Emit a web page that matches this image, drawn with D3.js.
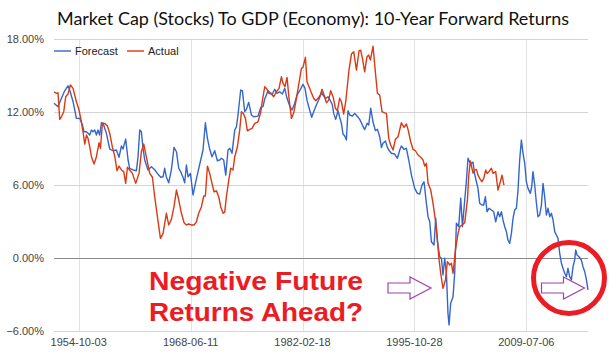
<!DOCTYPE html>
<html>
<head>
<meta charset="utf-8">
<script src="https://d3js.org/d3.v7.min.js"></script>
<style>
  body { margin: 0; background: #fff; }
  svg { display: block; }
</style>
</head>
<body>
<script>
const width = 615;
const height = 361;

const title = "Market Cap (Stocks) To GDP (Economy): 10-Year Forward Returns";
const seriesNames = ["Forecast", "Actual"];
const yTicks = [-6, 0, 6, 12, 18];
const xTickLabels = ["1954-10-03", "1968-06-11", "1982-02-18", "1995-10-28", "2009-07-06"];
const noteLines = ["Negative Future", "Returns Ahead?"];

// [decimal year, % return]
const forecast = [
  [1951.73, 12.74], [1952.22, 12.46], [1952.64, 13.15], [1953.04, 13.77], [1953.44, 14.18], [1953.65, 13.83],
  [1954.06, 12.87], [1954.47, 11.5], [1954.88, 11.5], [1955.21, 10.95], [1955.40, 10.4], [1955.70, 10.4],
  [1956.10, 10.13], [1956.31, 10.54], [1956.50, 10.4], [1956.71, 10.54], [1956.92, 10.13], [1957.11, 10.54],
  [1957.32, 10.13], [1957.53, 11.14], [1957.73, 11.1], [1958.14, 10.27], [1958.55, 8.98], [1958.95, 8.84],
  [1959.37, 8.9], [1959.68, 8.3], [1959.98, 9.23], [1960.17, 8.98], [1960.50, 9.8], [1960.79, 8.08],
  [1960.99, 7.4], [1961.40, 7.26], [1961.81, 7.2], [1962.01, 8.35], [1962.22, 10.54], [1962.42, 10.4],
  [1962.62, 9.04], [1962.83, 8.08], [1963.23, 7.26], [1963.65, 7.53], [1964.05, 7.28], [1964.46, 6.9],
  [1964.79, 6.66], [1965.07, 6.7], [1965.27, 7.4], [1965.48, 6.66], [1965.76, 6.21], [1966.09, 7.26],
  [1966.41, 9.12], [1966.71, 8.76], [1966.99, 7.4], [1967.23, 7.12], [1967.51, 6.66], [1967.72, 6.21],
  [1967.93, 7.67], [1968.13, 6.7], [1968.42, 6.98], [1968.74, 5.2], [1969.03, 6.16], [1969.35, 7.12],
  [1969.68, 8.08], [1969.96, 8.9], [1970.25, 11.14], [1970.50, 9.86], [1970.78, 8.96], [1971.06, 8.35],
  [1971.39, 8.84], [1971.72, 8.02], [1972.00, 8.08], [1972.21, 8.22], [1972.49, 8.08], [1972.74, 6.84],
  [1973.02, 8.9], [1973.23, 9.04], [1973.51, 8.63], [1973.84, 10.54], [1974.05, 10.81], [1974.24, 11.78],
  [1974.57, 13.83], [1974.78, 13.77], [1975.06, 12.05], [1975.27, 12.24], [1975.55, 12.82], [1975.88, 11.78],
  [1976.16, 11.63], [1976.69, 11.69], [1977.02, 12.4], [1977.30, 12.46], [1977.51, 13.1], [1977.91, 13.77],
  [1978.21, 13.61], [1978.45, 13.5], [1978.73, 13.89], [1979.01, 13.56], [1979.34, 13.69], [1979.67, 13.5],
  [1979.96, 13.97], [1980.24, 13.15], [1980.57, 12.51], [1980.85, 12.19], [1981.18, 12.74], [1981.46, 13.42],
  [1981.71, 13.69], [1981.88, 13.89], [1982.19, 14.3], [1982.44, 13.97], [1982.68, 13.0], [1983.01, 12.19],
  [1983.26, 11.59], [1983.50, 12.05], [1983.83, 12.6], [1984.15, 13.07], [1984.45, 13.61], [1984.73, 13.34],
  [1984.97, 13.15], [1985.25, 13.28], [1985.55, 12.95], [1985.79, 12.6], [1985.95, 11.91], [1986.19, 11.42],
  [1986.48, 12.13], [1986.68, 11.59], [1986.89, 11.09], [1987.09, 10.21], [1987.30, 10.05], [1987.50, 9.72],
  [1987.70, 12.13], [1987.91, 11.78], [1988.24, 11.69], [1988.52, 11.91], [1988.80, 11.69], [1989.13, 11.42],
  [1989.46, 10.95], [1989.74, 10.58], [1990.05, 11.1], [1990.23, 10.95], [1990.48, 12.33], [1990.76, 11.2],
  [1991.05, 10.5], [1991.30, 10.6], [1991.58, 9.99], [1991.79, 9.1], [1991.98, 9.45], [1992.28, 9.65],
  [1992.52, 9.12], [1992.68, 8.9], [1993.01, 8.63], [1993.41, 8.57], [1993.74, 8.22], [1994.03, 8.9],
  [1994.23, 9.23], [1994.55, 8.96], [1994.84, 9.04], [1995.13, 8.08], [1995.46, 6.84], [1995.86, 5.75],
  [1996.19, 5.34], [1996.47, 5.28], [1996.75, 6.02], [1997.00, 6.29], [1997.29, 4.52], [1997.49, 3.42],
  [1997.70, 3.0], [1997.90, 1.36], [1998.22, 1.09], [1998.43, 3.29], [1998.64, 1.36], [1998.92, 0.13],
  [1999.13, 0.0], [1999.32, -1.37], [1999.53, 0.0], [1999.74, -1.23], [1999.93, -4.52], [2000.06, -5.48],
  [2000.26, -3.7], [2000.55, -3.16], [2000.75, -1.23], [2000.96, 2.88], [2001.24, 2.6], [2001.49, 4.93],
  [2001.70, 2.6], [2001.98, 4.79], [2002.19, 6.43], [2002.38, 8.22], [2002.59, 7.9], [2002.80, 7.81],
  [2002.99, 7.9], [2003.20, 6.9], [2003.41, 6.29], [2003.60, 5.75], [2003.81, 4.52], [2004.09, 4.38],
  [2004.30, 4.38], [2004.51, 5.06], [2004.71, 3.83], [2004.95, 4.11], [2005.24, 3.97], [2005.52, 3.83],
  [2005.77, 3.0], [2006.05, 3.83], [2006.26, 3.42], [2006.47, 3.83], [2006.66, 3.15], [2006.87, 2.6],
  [2007.08, 2.19], [2007.27, 1.5], [2007.48, 1.23], [2007.69, 2.05], [2007.89, 3.29], [2008.09, 3.97],
  [2008.30, 4.11], [2008.50, 5.61], [2008.70, 8.08], [2008.91, 9.72], [2009.11, 8.63], [2009.32, 7.81],
  [2009.52, 6.29], [2009.72, 5.75], [2010.01, 5.34], [2010.17, 5.88], [2010.33, 7.12], [2010.54, 6.02],
  [2010.75, 4.52], [2010.94, 3.42], [2011.15, 3.56], [2011.36, 4.38], [2011.56, 6.16], [2011.76, 5.06],
  [2011.97, 3.56], [2012.17, 4.11], [2012.38, 3.42], [2012.58, 3.7], [2012.78, 3.15], [2012.99, 2.19],
  [2013.19, 1.92], [2013.39, 1.64], [2013.60, 0.41], [2013.81, -0.41], [2014.00, -0.82], [2014.21, -1.23],
  [2014.42, -1.51], [2014.61, -0.82], [2014.82, -1.51], [2015.03, -1.78], [2015.23, -0.69], [2015.43, -0.14],
  [2015.56, 0.68], [2015.72, 0.27], [2015.96, 0.13], [2016.25, -0.14], [2016.45, -0.69], [2016.66, -1.1],
  [2016.87, -1.78], [2017.06, -2.6]
];

const actual = [
  [1951.73, 13.69], [1952.03, 13.56], [1952.22, 13.6], [1952.43, 11.42], [1952.64, 11.63], [1952.92, 12.05],
  [1953.16, 13.28], [1953.44, 13.5], [1953.74, 14.24], [1954.06, 13.97], [1954.47, 12.87], [1954.79, 12.19],
  [1955.08, 11.22], [1955.28, 10.4], [1955.49, 9.39], [1955.70, 10.13], [1955.89, 9.86], [1956.10, 9.17],
  [1956.31, 8.35], [1956.63, 7.75], [1956.92, 8.35], [1957.24, 9.5], [1957.41, 9.04], [1957.65, 11.09],
  [1957.93, 11.09], [1958.27, 10.87], [1958.55, 10.27], [1958.88, 9.12], [1959.16, 8.4], [1959.44, 7.2],
  [1959.68, 7.58], [1959.98, 7.26], [1960.26, 7.12], [1960.50, 6.16], [1960.71, 7.48], [1960.99, 7.26],
  [1961.32, 6.98], [1961.73, 6.16], [1962.13, 6.98], [1962.42, 8.76], [1962.71, 9.39], [1963.04, 8.3],
  [1963.44, 6.98], [1963.77, 6.66], [1964.05, 5.06], [1964.38, 3.42], [1964.75, 1.64], [1965.07, 2.05],
  [1965.48, 3.7], [1965.76, 2.74], [1966.09, 3.2], [1966.41, 4.24], [1966.71, 5.61], [1966.99, 4.79],
  [1967.32, 3.7], [1967.64, 2.93], [1967.93, 2.74], [1968.21, 2.82], [1968.54, 2.74], [1968.86, 2.74],
  [1969.15, 3.0], [1969.43, 3.7], [1969.77, 4.24], [1970.05, 5.12], [1970.25, 5.12], [1970.50, 7.58],
  [1970.78, 6.98], [1971.06, 6.16], [1971.31, 5.47], [1971.60, 5.55], [1971.88, 5.06], [1972.13, 4.24],
  [1972.41, 3.7], [1972.62, 3.8], [1972.82, 5.06], [1973.11, 6.43], [1973.35, 7.4], [1973.63, 7.26],
  [1973.84, 8.35], [1974.17, 9.17], [1974.45, 10.54], [1974.66, 12.05], [1974.90, 11.91], [1975.15, 11.5],
  [1975.39, 10.48], [1975.67, 10.6], [1975.96, 10.68], [1976.29, 11.09], [1976.69, 11.22], [1977.02, 12.0],
  [1977.23, 13.0], [1977.51, 14.1], [1977.79, 13.89], [1978.03, 13.56], [1978.33, 13.5], [1978.61, 13.28],
  [1978.94, 13.69], [1979.26, 13.97], [1979.55, 14.92], [1979.75, 14.38], [1979.99, 14.1], [1980.24, 14.87],
  [1980.48, 13.15], [1980.78, 11.5], [1981.06, 11.96], [1981.39, 13.15], [1981.71, 14.43], [1982.00, 15.61],
  [1982.19, 15.7], [1982.49, 16.52], [1982.68, 14.51], [1982.93, 14.1], [1983.22, 13.61], [1983.50, 13.15],
  [1983.75, 12.95], [1984.03, 13.15], [1984.32, 13.42], [1984.52, 13.89], [1984.76, 13.42], [1985.06, 12.79],
  [1985.34, 13.0], [1985.58, 13.77], [1985.87, 13.28], [1986.16, 12.33], [1986.40, 12.13], [1986.68, 13.15],
  [1986.89, 12.87], [1987.17, 11.86], [1987.42, 12.87], [1987.63, 14.24], [1987.82, 15.47], [1988.12, 16.79],
  [1988.40, 16.98], [1988.73, 15.47], [1989.05, 17.06], [1989.25, 17.1], [1989.46, 16.43], [1989.74, 15.33],
  [1990.02, 16.57], [1990.23, 16.7], [1990.44, 16.3], [1990.76, 17.44], [1991.09, 15.0], [1991.30, 13.56],
  [1991.58, 13.42], [1991.86, 12.05], [1992.19, 11.96], [1992.40, 11.91], [1992.68, 9.86], [1992.92, 9.31],
  [1993.21, 8.9], [1993.50, 9.78], [1993.82, 9.99], [1994.23, 11.14], [1994.55, 10.76], [1994.84, 11.04],
  [1995.04, 10.6], [1995.37, 9.58], [1995.65, 8.96], [1995.95, 8.84], [1996.26, 8.49], [1996.59, 8.3],
  [1996.88, 8.08], [1997.08, 7.58], [1997.29, 7.81], [1997.49, 6.16], [1997.82, 5.61], [1998.10, 4.52],
  [1998.39, 3.15], [1998.64, 1.5], [1998.80, 0.13], [1999.04, -1.23], [1999.32, -2.47], [1999.62, -1.78],
  [1999.86, -0.28], [2000.14, -0.55], [2000.35, -0.41], [2000.55, -1.23], [2000.84, 0.68], [2001.16, 2.05],
  [2001.37, 2.6], [2001.65, 2.74], [2001.98, 2.93], [2002.31, 4.8], [2002.47, 6.8], [2002.67, 8.0],
  [2002.99, 7.0], [2003.20, 7.26], [2003.41, 7.31], [2003.60, 6.84], [2003.81, 6.57], [2004.09, 6.29],
  [2004.30, 6.57], [2004.55, 7.26], [2004.71, 6.98], [2004.95, 7.12], [2005.24, 7.4], [2005.44, 6.98],
  [2005.77, 7.12], [2006.05, 5.61], [2006.34, 6.29], [2006.54, 6.84], [2006.78, 6.02]
];

const colors = ["#3366cc", "#dc3912"];

// decimal year -> Date
const toDate = yr => {
  const whole = Math.floor(yr);
  const start = Date.UTC(whole, 0, 1), end = Date.UTC(whole + 1, 0, 1);
  return new Date(start + (yr - whole) * (end - start));
};

const svg = d3.select("body").append("svg")
  .attr("width", width)
  .attr("height", height)
  .style("font-family", "Arial, 'Liberation Sans', sans-serif");

const plotLeft = 54, plotRight = 588, plotTop = 39.3, plotBottom = 331.3;

const x = d3.scaleUtc()
  .domain([toDate(forecast[0][0]), toDate(forecast[forecast.length - 1][0])])
  .range([plotLeft, plotRight]);

const y = d3.scaleLinear()
  .domain([-6, 18])
  .range([plotBottom, plotTop]);

const parse = d3.utcParse("%Y-%m-%d");
const xTicks = xTickLabels.map(parse);

// grid
svg.append("g")
  .selectAll("line")
  .data(xTicks)
  .join("line")
  .attr("x1", d => Math.round(x(d)) + 0.5)
  .attr("x2", d => Math.round(x(d)) + 0.5)
  .attr("y1", plotTop)
  .attr("y2", plotBottom)
  .attr("stroke", "#e2e2e2");

svg.append("g")
  .selectAll("line")
  .data(yTicks)
  .join("line")
  .attr("x1", plotLeft)
  .attr("x2", plotRight)
  .attr("y1", d => Math.round(y(d)) + 0.5)
  .attr("y2", d => Math.round(y(d)) + 0.5)
  .attr("stroke", d => d === 0 ? "#888" : "#d4d4d4");

// axis labels
svg.append("g")
  .selectAll("text")
  .data(yTicks)
  .join("text")
  .attr("x", 44)
  .attr("y", d => y(d))
  .attr("dy", "0.35em")
  .attr("text-anchor", "end")
  .attr("font-size", 11)
  .attr("fill", "#444")
  .text(d => d3.format(".2f")(d) + "%");

svg.append("g")
  .selectAll("text")
  .data(xTicks)
  .join("text")
  .attr("x", d => x(d))
  .attr("y", 346)
  .attr("text-anchor", "middle")
  .attr("font-size", 11)
  .attr("fill", "#444")
  .text((d, i) => xTickLabels[i]);

// lines
const line = d3.line()
  .x(d => x(toDate(d[0])))
  .y(d => y(d[1]));

svg.append("g")
  .selectAll("path")
  .data([forecast, actual])
  .join("path")
  .attr("d", line)
  .attr("fill", "none")
  .attr("stroke", (d, i) => colors[i])
  .attr("stroke-width", 1.4)
  .attr("stroke-linejoin", "round");

// legend
const legend = svg.append("g")
  .selectAll("g")
  .data(seriesNames)
  .join("g")
  .attr("transform", (d, i) => `translate(${[54, 127][i]},51)`);

legend.append("line")
  .attr("x1", 0).attr("x2", 17)
  .attr("stroke", (d, i) => colors[i])
  .attr("stroke-width", 1.4);

legend.append("text")
  .attr("x", 21)
  .attr("dy", "0.35em")
  .attr("font-size", 11)
  .attr("fill", "#222")
  .text(d => d);

// title
svg.append("text")
  .attr("x", 57)
  .attr("y", 25)
  .attr("font-family", "Lato, 'Open Sans', sans-serif")
  .attr("font-size", 17)
  .attr("fill", "#111")
  .attr("textLength", 512)
  .attr("lengthAdjust", "spacingAndGlyphs")
  .text(title);

// annotation
svg.append("g")
  .selectAll("text")
  .data(noteLines)
  .join("text")
  .attr("x", 149)
  .attr("y", (d, i) => 290 + i * 31)
  .attr("font-size", 26)
  .attr("font-weight", "bold")
  .attr("fill", "#ec1c24")
  .attr("textLength", 214)
  .attr("lengthAdjust", "spacingAndGlyphs")
  .text(d => d);

// hollow arrows
const arrow = (x0, cy) => {
  const p = d3.path();
  p.moveTo(x0, cy - 5);
  p.lineTo(x0 + 22, cy - 5);
  p.lineTo(x0 + 22, cy - 11);
  p.lineTo(x0 + 43, cy);
  p.lineTo(x0 + 22, cy + 11);
  p.lineTo(x0 + 22, cy + 5);
  p.lineTo(x0, cy + 5);
  p.closePath();
  return p.toString();
};

svg.append("path")
  .attr("d", arrow(388, 288))
  .attr("fill", "none")
  .attr("stroke", "#a23fb0")
  .attr("stroke-width", 1.2);

svg.append("circle")
  .attr("cx", 569)
  .attr("cy", 278)
  .attr("r", 35.5)
  .attr("fill", "none")
  .attr("stroke", "#ec1c24")
  .attr("stroke-width", 5);

svg.append("path")
  .attr("d", arrow(541.5, 288))
  .attr("fill", "none")
  .attr("stroke", "#a23fb0")
  .attr("stroke-width", 1.2);
</script>
</body>
</html>
